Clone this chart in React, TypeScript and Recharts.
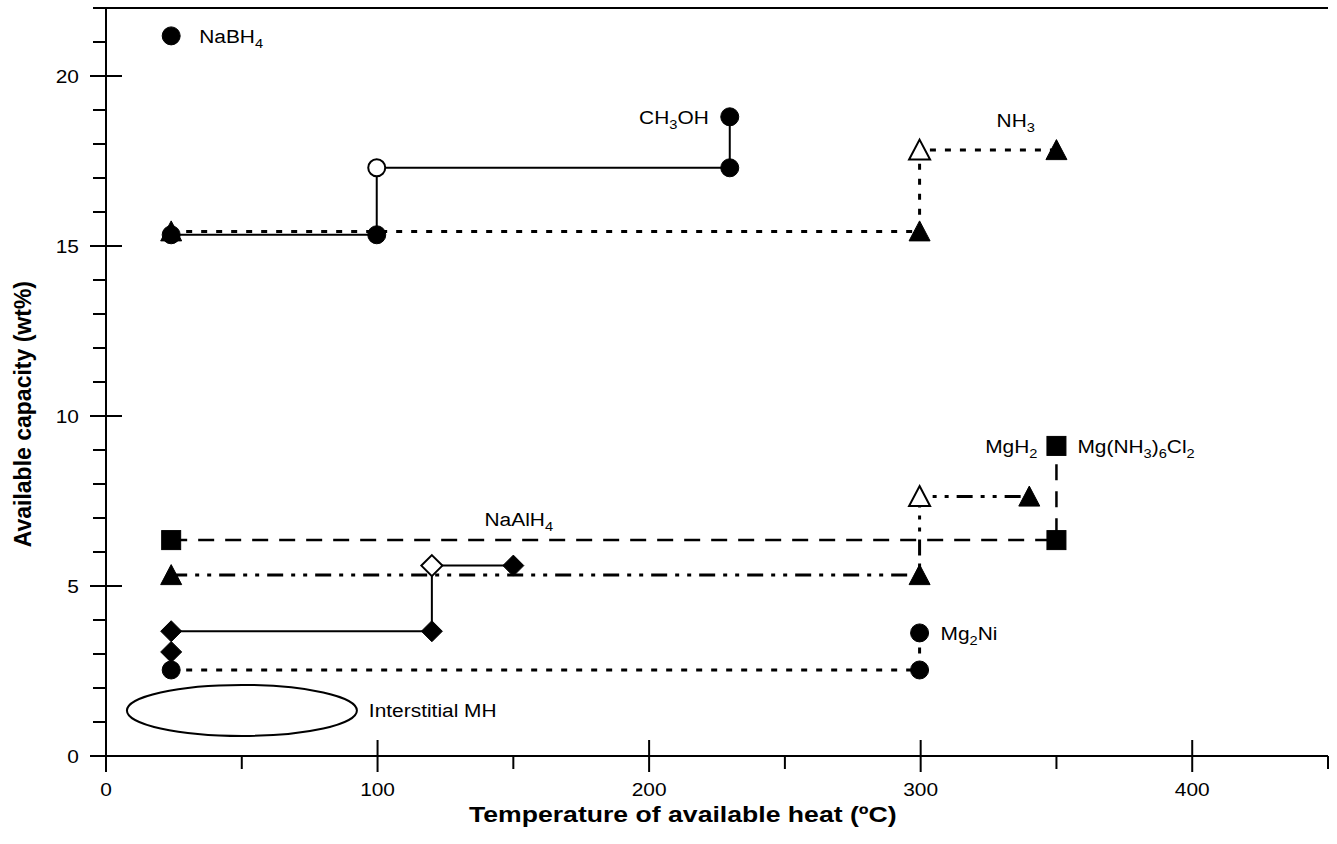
import React from "react";
import { LineChart, Line, XAxis, YAxis, ReferenceLine, ReferenceArea, ReferenceDot } from "recharts";

if (typeof document !== "undefined") document.body.style.margin = "0";

type Pt = { t: number; c: number; open?: boolean };

// temperature (ºC) vs available capacity (wt%)
const nabh4: Pt[] = [{ t: 24, c: 21.18 }];
const ch3oh: Pt[] = [
  { t: 24, c: 15.33 },
  { t: 99.7, c: 15.33 },
  { t: 99.7, c: 17.3, open: true },
  { t: 229.7, c: 17.3 },
  { t: 229.7, c: 18.8 },
];
const nh3: Pt[] = [
  { t: 24, c: 15.43 },
  { t: 299.6, c: 15.43 },
  { t: 299.6, c: 17.82, open: true },
  { t: 350, c: 17.82 },
];
const mgNh3Cl2: Pt[] = [
  { t: 24, c: 6.35 },
  { t: 350, c: 6.35 },
  { t: 350, c: 9.12 },
];
const mgh2: Pt[] = [
  { t: 24, c: 5.32 },
  { t: 299.6, c: 5.32 },
  { t: 299.6, c: 7.63, open: true },
  { t: 340, c: 7.63 },
];
const naalh4: Pt[] = [
  { t: 24, c: 3.67 },
  { t: 120, c: 3.67 },
  { t: 120, c: 5.6, open: true },
  { t: 150, c: 5.6 },
];
const naalh4Low: Pt[] = [{ t: 24, c: 3.06 }];
const mg2ni: Pt[] = [
  { t: 24, c: 2.53 },
  { t: 299.6, c: 2.53 },
  { t: 299.6, c: 3.62 },
];

// interstitial metal hydrides region
const interstitialT = [7.7, 92.4];
const interstitialC = [0.59, 2.09];

const labels = [
  { text: "NaBH_4", t: 24, c: 21.18 },
  { text: "CH_3OH", t: 229.7, c: 18.8 },
  { text: "NH_3", t: 335, c: 18.72 },
  { text: "MgH_2", t: 350, c: 9.12 },
  { text: "Mg(NH_3)_6Cl_2", t: 350, c: 9.12 },
  { text: "NaAlH_4", t: 152, c: 6.97 },
  { text: "Mg_2Ni", t: 299.6, c: 3.62 },
  { text: "Interstitial MH", t: 96.8, c: 1.35 },
];

const xTicks = [0, 50, 100, 150, 200, 250, 300, 350, 400, 450];
const yTicks = [0, 1, 2, 3, 4, 5, 6, 7, 8, 9, 10, 11, 12, 13, 14, 15, 16, 17, 18, 19, 20, 21, 22];

const FONT = "'Liberation Sans', Arial, Helvetica, sans-serif";
const SX = 1.1;

const labelStyle: Record<string, { dx: number; anchor: "start" | "middle" | "end" }> = {
  NaBH_4: { dx: 28, anchor: "start" },
  CH_3OH: { dx: -21, anchor: "end" },
  NH_3: { dx: 0, anchor: "middle" },
  MgH_2: { dx: -19, anchor: "end" },
  "Mg(NH_3)_6Cl_2": { dx: 21, anchor: "start" },
  NaAlH_4: { dx: 0, anchor: "middle" },
  Mg_2Ni: { dx: 21, anchor: "start" },
  "Interstitial MH": { dx: 0, anchor: "start" },
};

const DOTTED = "6 9";
const DASHED = "16 11";
const DASH_DOT_DOT = "16 8 4 8 4 8";

const series = [
  { id: "ch3oh", data: ch3oh, shape: "circle", dash: undefined, width: 2 },
  { id: "nh3", data: nh3, shape: "triangle", dash: DOTTED, width: 3 },
  { id: "mgnh3", data: mgNh3Cl2, shape: "square", dash: DASHED, width: 2.5 },
  { id: "mgh2", data: mgh2, shape: "triangle", dash: DASH_DOT_DOT, width: 3 },
  { id: "naalh4", data: naalh4, shape: "diamond", dash: undefined, width: 2 },
  { id: "naalh4low", data: naalh4Low, shape: "diamond", dash: undefined, width: 0 },
  { id: "mg2ni", data: mg2ni, shape: "circle", dash: DOTTED, width: 3 },
  { id: "nabh4", data: nabh4, shape: "circle", dash: undefined, width: 0 },
];

function chem(s: string, size: number) {
  const segs: { txt: string; sub: boolean }[] = [];
  let buf = "";
  for (let i = 0; i < s.length; i++) {
    if (s[i] === "_") {
      if (buf) segs.push({ txt: buf, sub: false });
      buf = "";
      segs.push({ txt: s[i + 1], sub: true });
      i++;
    } else buf += s[i];
  }
  if (buf) segs.push({ txt: buf, sub: false });
  let prev = false;
  return segs.map((sg, k) => {
    const dy = sg.sub ? (prev ? 0 : 5) : prev ? -5 : 0;
    prev = sg.sub;
    return (
      <tspan key={k} dy={dy} fontSize={sg.sub ? size * 0.7 : size}>
        {sg.txt}
      </tspan>
    );
  });
}

function SText({ x, y, anchor = "start", size = 19, weight = "normal", children }: any) {
  return (
    <g transform={`translate(${x},${y}) scale(${SX},1)`}>
      <text x={0} y={0} textAnchor={anchor} fontSize={size} fontFamily={FONT} fontWeight={weight} fill="#000">
        {children}
      </text>
    </g>
  );
}

function Marker({ cx, cy, shape, open }: any) {
  const fill = open ? "#fff" : "#000";
  const common = { fill, stroke: "#000", strokeWidth: open ? 2 : 1 };
  if (cx == null || cy == null) return null;
  if (shape === "circle") return <circle cx={cx} cy={cy} r={open ? 8.5 : 9} {...common} />;
  if (shape === "square") return <rect x={cx - 9.5} y={cy - 9.5} width={19} height={19} {...common} />;
  if (shape === "diamond")
    return <polygon points={`${cx},${cy - 10.5} ${cx + 10.5},${cy} ${cx},${cy + 10.5} ${cx - 10.5},${cy}`} {...common} />;
  return <polygon points={`${cx},${cy - 10.5} ${cx + 10.5},${cy + 9.5} ${cx - 10.5},${cy + 9.5}`} {...common} />;
}

function YTick(props: any) {
  const { x, y, payload } = props;
  const v = payload.value;
  if (v % 5 === 0)
    return (
      <g>
        <line x1={x - 16} x2={x + 16} y1={y} y2={y} stroke="#000" strokeWidth={2} />
        <SText x={x - 27} y={y + 7} anchor="end">
          {v}
        </SText>
      </g>
    );
  return <line x1={x - 13} x2={x} y1={y} y2={y} stroke="#000" strokeWidth={2} />;
}

function XTick(props: any) {
  const { x, y, payload } = props;
  const v = payload.value;
  if (v % 100 === 0)
    return (
      <g>
        <line x1={x} x2={x} y1={y - 16} y2={y + 16} stroke="#000" strokeWidth={2} />
        <SText x={x} y={y + 40} anchor="middle">
          {v}
        </SText>
      </g>
    );
  return <line x1={x} x2={x} y1={y} y2={y + 13} stroke="#000" strokeWidth={2} />;
}

function XTitle(props: any) {
  const vb = props.viewBox || { x: 106, y: 756, width: 1222, height: 88 };
  const cx = vb.x + vb.width * 0.472;
  return (
    <g transform={`translate(${cx},${vb.y + 66}) scale(1.21,1)`}>
      <text textAnchor="middle" fontSize={22} fontWeight="bold" fontFamily={FONT} fill="#000">
        Temperature of available heat (ºC)
      </text>
    </g>
  );
}

function YTitle(props: any) {
  const vb = props.viewBox || { x: 0, y: 8, width: 106, height: 748 };
  const cy = vb.y + vb.height * 0.543;
  return (
    <text
      transform={`translate(${vb.x + 31},${cy}) rotate(-90)`}
      textAnchor="middle"
      fontSize={23}
      fontWeight="bold"
      fontFamily={FONT}
      fill="#000"
    >
      Available capacity (wt%)
    </text>
  );
}

export default function App() {
  return (
    <div style={{ width: 1337, height: 844, background: "#fff" }}>
      <LineChart width={1337} height={844} margin={{ top: 8, right: 9, bottom: 0, left: 0 }}>
        <XAxis
          dataKey="t"
          type="number"
          domain={[0, 450]}
          ticks={xTicks}
          interval={0}
          height={88}
          tickSize={0}
          tickMargin={0}
          tickLine={false}
          axisLine={{ stroke: "#000", strokeWidth: 2 }}
          tick={<XTick />}
          label={{ content: (p: any) => <XTitle {...p} /> }}
          allowDataOverflow
        />
        <YAxis
          dataKey="c"
          type="number"
          domain={[0, 22]}
          ticks={yTicks}
          interval={0}
          width={106}
          tickSize={0}
          tickMargin={0}
          tickLine={false}
          axisLine={{ stroke: "#000", strokeWidth: 2 }}
          tick={<YTick />}
          label={{ content: (p: any) => <YTitle {...p} /> }}
          allowDataOverflow
        />
        <ReferenceLine y={22} stroke="#000" strokeWidth={2} />
        <ReferenceArea
          x1={interstitialT[0]}
          x2={interstitialT[1]}
          y1={interstitialC[0]}
          y2={interstitialC[1]}
          shape={(p: any) => (
            <ellipse
              cx={p.x + p.width / 2}
              cy={p.y + p.height / 2}
              rx={p.width / 2}
              ry={p.height / 2}
              fill="none"
              stroke="#000"
              strokeWidth={2}
            />
          )}
        />
        {series.map((s) => (
          <Line
            key={s.id}
            data={s.data}
            dataKey="c"
            type="linear"
            stroke={s.width ? "#000" : "none"}
            strokeWidth={s.width}
            strokeDasharray={s.dash}
            isAnimationActive={false}
            activeDot={false}
            dot={(p: any) => (
              <Marker key={`${s.id}-${p.index}`} cx={p.cx} cy={p.cy} shape={s.shape} open={p.payload?.open} />
            )}
          />
        ))}
        {labels.map((l) => (
          <ReferenceDot
            key={l.text}
            x={l.t}
            y={l.c}
            r={0}
            shape={(p: any) => (
              <SText x={p.cx + labelStyle[l.text].dx} y={p.cy + 7} anchor={labelStyle[l.text].anchor}>
                {chem(l.text, 19)}
              </SText>
            )}
          />
        ))}
      </LineChart>
    </div>
  );
}
